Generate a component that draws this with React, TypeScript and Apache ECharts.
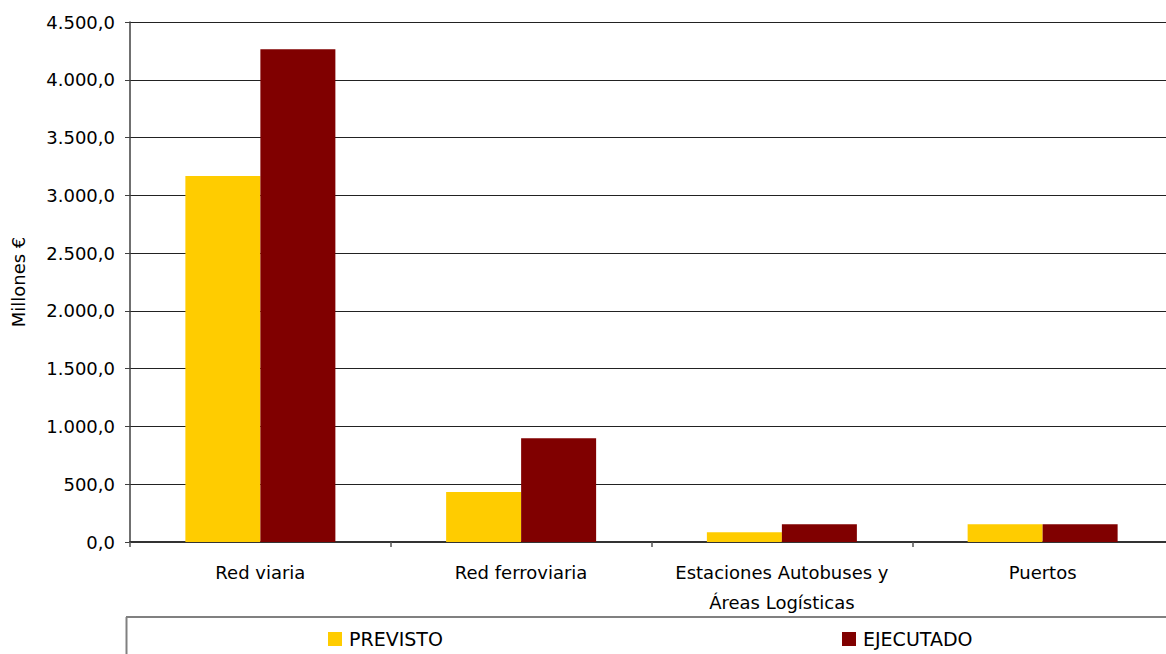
import React, { useEffect, useRef } from "react";
import * as echarts from "echarts";

// Inversión por modo de transporte (millones de euros)
const categories = [
  "Red viaria",
  "Red ferroviaria",
  "Estaciones Autobuses y\nÁreas Logísticas",
  "Puertos",
];
const previsto = [3167, 433, 84, 153];
const ejecutado = [4264, 897, 153, 153];
const seriesNames = ["PREVISTO", "EJECUTADO"];
const yMax = 4500;
const yStep = 500;

const FONT = "DejaVu Sans";

// 4500 -> "4.500,0"
function fmt(v: number): string {
  const [intPart, dec] = v.toFixed(1).split(".");
  const withDots = intPart.replace(/\B(?=(\d{3})+(?!\d))/g, ".");
  return `${withDots},${dec}`;
}

const legendText = {
  fontFamily: FONT,
  fontSize: 19,
  color: "#000000",
  lineHeight: 20,
  padding: [0, 0, 0, 2],
};

export default function App() {
  const ref = useRef<HTMLDivElement>(null);

  useEffect(() => {
    if (!ref.current) return;
    const chart = echarts.init(ref.current, undefined, { renderer: "svg" });
    chart.setOption({
      animation: false,
      backgroundColor: "#ffffff",
      color: ["#FFCC00", "#800000"],
      grid: {
        left: 130,
        right: -7,
        top: 22,
        bottom: 112,
        containLabel: false,
        outerBoundsMode: "none",
      },
      xAxis: {
        type: "category",
        data: categories,
        boundaryGap: true,
        axisLine: { lineStyle: { color: "#333333", width: 2 } },
        axisTick: {
          show: true,
          length: 5,
          alignWithLabel: false,
          lineStyle: { color: "#555555", width: 1.5 },
        },
        axisLabel: {
          fontFamily: FONT,
          fontSize: 18,
          color: "#000000",
          lineHeight: 30,
          margin: 15,
          interval: 0,
        },
      },
      yAxis: {
        type: "value",
        min: 0,
        max: yMax,
        interval: yStep,
        axisLine: { show: true, lineStyle: { color: "#404040", width: 1.5 } },
        axisTick: { show: true, length: 5, lineStyle: { color: "#404040", width: 1 } },
        splitLine: { show: true, lineStyle: { color: "#222222", width: 1 } },
        axisLabel: {
          fontFamily: FONT,
          fontSize: 18,
          color: "#000000",
          margin: 15,
          formatter: (v: number) => fmt(v),
        },
      },
      legend: [
        {
          data: [seriesNames[0]],
          left: 328,
          top: 629,
          padding: 0,
          icon: "rect",
          itemWidth: 14,
          itemHeight: 14,
          textStyle: legendText,
          selectedMode: false,
        },
        {
          data: [seriesNames[1]],
          left: 842,
          top: 629,
          padding: 0,
          icon: "rect",
          itemWidth: 14,
          itemHeight: 14,
          textStyle: legendText,
          selectedMode: false,
        },
      ],
      graphic: [
        {
          type: "text",
          x: 18,
          y: 282,
          rotation: Math.PI / 2,
          style: {
            text: "Millones €",
            fontFamily: FONT,
            fontSize: 18,
            fill: "#000000",
            align: "center",
            verticalAlign: "middle",
          },
        },
        {
          type: "line",
          shape: { x1: 126, y1: 617, x2: 1166, y2: 617 },
          style: { stroke: "#808080", lineWidth: 2 },
        },
        {
          type: "line",
          shape: { x1: 126.5, y1: 617, x2: 126.5, y2: 654 },
          style: { stroke: "#808080", lineWidth: 2 },
        },
      ],
      series: [
        {
          name: seriesNames[0],
          type: "bar",
          data: previsto,
          barWidth: 75,
          barGap: "0%",
        },
        {
          name: seriesNames[1],
          type: "bar",
          data: ejecutado,
          barWidth: 75,
          barGap: "0%",
        },
      ],
    });
    return () => chart.dispose();
  }, []);

  return (
    <div
      ref={ref}
      style={{ position: "absolute", left: 0, top: 0, width: 1166, height: 654 }}
    />
  );
}
